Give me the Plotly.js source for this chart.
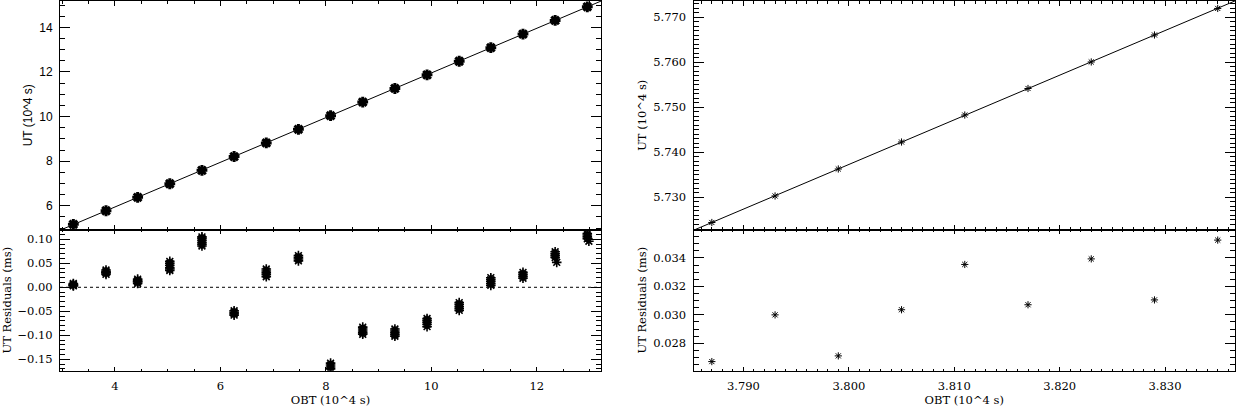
<!DOCTYPE html>
<html><head><meta charset="utf-8">
<script src="https://cdn.plot.ly/plotly-3.0.1.min.js"></script>
<style>html,body{margin:0;padding:0;background:#fff}#chart{width:1236px;height:407px}</style>
</head><body><div id="chart"></div>
<script>
// ---- Left panels: full pass (clusters of measurements) ----
const clusterOBT = [3.21, 3.83, 4.43, 5.04, 5.65, 6.26, 6.87, 7.48, 8.09, 8.70, 9.31, 9.92, 10.53, 11.13, 11.74, 12.35, 12.96];
const clusterUT  = [5.17, 5.78, 6.38, 6.99, 7.59, 8.21, 8.82, 9.43, 10.04, 10.65, 11.26, 11.87, 12.48, 13.09, 13.70, 14.31, 14.92];
const clusterRes = [
  [0.003, 0.005, 0.006, 0.008, 0.004],
  [0.027, 0.030, 0.033, 0.036, 0.031],
  [0.008, 0.011, 0.014, 0.017, 0.012],
  [0.035, 0.038, 0.041, 0.046, 0.050, 0.054],
  [0.086, 0.090, 0.094, 0.098, 0.102, 0.105],
  [-0.049, -0.052, -0.055, -0.058],
  [0.022, 0.026, 0.030, 0.034, 0.038],
  [0.055, 0.059, 0.062, 0.066],
  [-0.158, -0.162, -0.166, -0.170],
  [-0.083, -0.087, -0.091, -0.095, -0.098],
  [-0.087, -0.091, -0.095, -0.099, -0.102],
  [-0.065, -0.069, -0.073, -0.077, -0.082],
  [-0.032, -0.036, -0.040, -0.044, -0.048],
  [0.004, 0.008, 0.012, 0.016, 0.020],
  [0.019, 0.023, 0.027, 0.031],
  [0.062, 0.066, 0.070, 0.074],
  [0.101, 0.105, 0.109, 0.112]
];
const extraOBT = [12.38, 12.99];
const extraRes = [0.052, 0.096];

// ---- Right panels: zoomed segment ----
const rightOBT = [3.787, 3.793, 3.799, 3.805, 3.811, 3.817, 3.823, 3.829, 3.835];
const rightUT  = [5.7244, 5.7303, 5.7363, 5.7423, 5.7483, 5.7542, 5.7601, 5.7661, 5.7720];
const rightRes = [0.02672, 0.03000, 0.02712, 0.03036, 0.03354, 0.03071, 0.03393, 0.03105, 0.03525];

// ---- labels ----
const utTitle = 'UT (10^4 s)';
const resTitle = 'UT Residuals (ms)';
const obtTitle = 'OBT (10^4 s)';

function linfit(x, y) {
  const n = x.length;
  let sx = 0, sy = 0, sxx = 0, sxy = 0;
  for (let i = 0; i < n; i++) { sx += x[i]; sy += y[i]; sxx += x[i]*x[i]; sxy += x[i]*y[i]; }
  const b = (n*sxy - sx*sy) / (n*sxx - sx*sx);
  const a = (sy - b*sx) / n;
  return {a, b};
}

const resX = [], resY = [];
clusterRes.forEach((arr, i) => arr.forEach(v => { resX.push(clusterOBT[i]); resY.push(v); }));
extraOBT.forEach((v, i) => { resX.push(v); resY.push(extraRes[i]); });

const fitL = linfit(clusterOBT, clusterUT);
const fitR = linfit(rightOBT, rightUT);
const xL = [Math.min(...clusterOBT) - 1, Math.max(...clusterOBT) + 1];
const xR = [Math.min(...rightOBT) - 0.01, Math.max(...rightOBT) + 0.01];

const black = '#000';
const starBig = {symbol: 'asterisk-open', size: 9, color: black, line: {color: black, width: 3}};
const starMid = {symbol: 'asterisk-open', size: 8, color: black, line: {color: black, width: 1.6}};
const starSmall = {symbol: 'asterisk-open', size: 6, color: black, line: {color: black, width: 1}};

const traces = [
  {x: xL, y: xL.map(v => fitL.a + fitL.b*v), xaxis: 'x', yaxis: 'y', mode: 'lines', line: {color: black, width: 1}},
  {x: clusterOBT, y: clusterUT, xaxis: 'x', yaxis: 'y', mode: 'markers', marker: starBig},
  {x: resX, y: resY, xaxis: 'x2', yaxis: 'y2', mode: 'markers', marker: starMid},
  {x: xR, y: xR.map(v => fitR.a + fitR.b*v), xaxis: 'x3', yaxis: 'y3', mode: 'lines', line: {color: black, width: 1}},
  {x: rightOBT, y: rightUT, xaxis: 'x3', yaxis: 'y3', mode: 'markers', marker: starSmall},
  {x: rightOBT, y: rightRes, xaxis: 'x4', yaxis: 'y4', mode: 'markers', marker: starSmall}
];

const W = 1236, H = 407;
const dxL = [60/W, 601/W], dxR = [693.5/W, 1235/W];
const dyTop = [1 - 229.7/H, 1 - 0.8/H], dyBot = [1 - 370.7/H, 1 - 229.7/H];
const serif = 'DejaVu Serif, serif';
const sans = 'Liberation Sans, Arial, sans-serif';

function ax(extra) {
  return Object.assign({
    showline: true, linecolor: black, linewidth: 1, mirror: 'ticks',
    ticks: 'inside', tickcolor: black, tickwidth: 1,
    showgrid: false, zeroline: false, fixedrange: true,
    tickfont: {family: serif, size: 11.5, color: black}
  }, extra);
}

const layout = {
  width: W, height: H, margin: {l: 0, r: 0, t: 0, b: 0},
  paper_bgcolor: '#fff', plot_bgcolor: '#fff', showlegend: false,
  xaxis: ax({domain: dxL, anchor: 'y', range: [2.957, 13.22], tick0: 0, dtick: 2, ticklen: 5,
    minor: {dtick: 0.5, ticklen: 3, ticks: 'inside', tickcolor: black}, showticklabels: false}),
  yaxis: ax({domain: dyTop, anchor: 'x', range: [4.93, 15.19], tick0: 0, dtick: 2, ticklen: 10,
    minor: {dtick: 0.5, ticklen: 5, ticks: 'inside', tickcolor: black},
    tickfont: {family: sans, size: 12, color: black}, ticklabelstandoff: 4,
    title: {text: utTitle, font: {family: sans, size: 12, color: black}, standoff: 4}}),
  xaxis2: ax({domain: dxL, anchor: 'y2', range: [2.957, 13.22], tick0: 0, dtick: 2, ticklen: 4,
    minor: {dtick: 0.5, ticklen: 2, ticks: 'inside', tickcolor: black}, ticklabelstandoff: 4,
    title: {text: obtTitle, font: {family: serif, size: 11.5, color: black}, standoff: 4}}),
  yaxis2: ax({domain: dyBot, anchor: 'x2', range: [-0.1738, 0.120], tick0: 0, dtick: 0.05, tickformat: '.2f', ticklen: 10,
    minor: {dtick: 0.01, ticklen: 5, ticks: 'inside', tickcolor: black}, ticklabelstandoff: 4,
    title: {text: resTitle, font: {family: serif, size: 11.5, color: black}, standoff: 7}}),
  xaxis3: ax({domain: dxR, anchor: 'y3', range: [3.78526, 3.83664], tick0: 0, dtick: 0.01, ticklen: 5,
    minor: {dtick: 0.001, ticklen: 3, ticks: 'inside', tickcolor: black}, showticklabels: false}),
  yaxis3: ax({domain: dyTop, anchor: 'x3', range: [5.7228, 5.7737], tick0: 0, dtick: 0.01, tickformat: '.3f', ticklen: 10,
    minor: {dtick: 0.001, ticklen: 5, ticks: 'inside', tickcolor: black}, ticklabelstandoff: 4,
    title: {text: utTitle, font: {family: serif, size: 11.5, color: black}, standoff: 4}}),
  xaxis4: ax({domain: dxR, anchor: 'y4', range: [3.78526, 3.83664], tick0: 0, dtick: 0.01, tickformat: '.3f', ticklen: 4,
    minor: {dtick: 0.001, ticklen: 2, ticks: 'inside', tickcolor: black}, ticklabelstandoff: 4,
    title: {text: obtTitle, font: {family: serif, size: 11.5, color: black}, standoff: 4}}),
  yaxis4: ax({domain: dyBot, anchor: 'x4', range: [0.02608, 0.03598], tick0: 0, dtick: 0.002, tickformat: '.3f', ticklen: 10,
    minor: {dtick: 0.0005, ticklen: 5, ticks: 'inside', tickcolor: black}, ticklabelstandoff: 4,
    title: {text: resTitle, font: {family: serif, size: 11.5, color: black}, standoff: 4}}),
  shapes: [
    {type: 'line', xref: 'x2 domain', yref: 'y2', x0: 0, x1: 1, y0: 0, y1: 0, line: {color: black, width: 1, dash: 'dot'}}
  ]
};

Plotly.newPlot('chart', traces, layout, {displayModeBar: false, staticPlot: true});
</script>
</body></html>
